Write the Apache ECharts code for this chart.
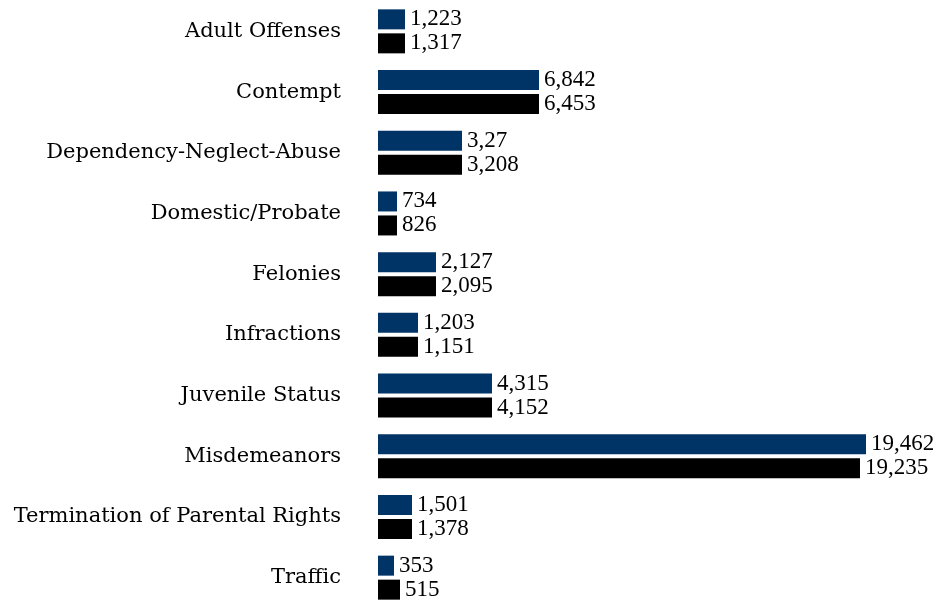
<!DOCTYPE html>
<html>
<head>
<meta charset="utf-8">
<script src="https://cdn.jsdelivr.net/npm/echarts@6/dist/echarts.min.js"></script>
<style>
html,body{margin:0;padding:0;background:#fff;}
#c{width:936px;height:600px;}
</style>
</head>
<body>
<div id="c"></div>
<script>
const categories = ['Adult Offenses','Contempt','Dependency-Neglect-Abuse','Domestic/Probate','Felonies','Infractions','Juvenile Status','Misdemeanors','Termination of Parental Rights','Traffic'];
// bar lengths
const seriesA = [1077, 6421, 3350, 758, 2313, 1595, 4546, 19462, 1356, 638];
const seriesB = [1077, 6421, 3350, 758, 2313, 1595, 4546, 19222, 1356, 877];
// value labels as printed in the picture
const labelsA = ['1,223','6,842','3,27','734','2,127','1,203','4,315','19,462','1,501','353'];
const labelsB = ['1,317','6,453','3,208','826','2,095','1,151','4,152','19,235','1,378','515'];

const chart = echarts.init(document.getElementById('c'));
const labelStyle = (arr) => ({
  show: true,
  position: 'right',
  distance: 5,
  color: '#000',
  fontFamily: 'Liberation Serif',
  fontSize: 23,
  formatter: p => arr[p.dataIndex]
});
chart.setOption({
  animation: false,
  grid: {left: 378, width: 501.5, top: 1, height: 607, containLabel: false, outerBoundsMode: 'none'},
  xAxis: {type: 'value', min: 0, max: 20000, show: false},
  yAxis: {
    type: 'category', inverse: true, data: categories,
    axisLine: {show: false}, axisTick: {show: false}, splitLine: {show: false},
    axisLabel: {margin: 37, color: '#000', fontFamily: 'DejaVu Serif', fontSize: 21}
  },
  series: [
    {type: 'bar', data: seriesA, barWidth: 20, barGap: '20%', itemStyle: {color: '#003366'}, label: labelStyle(labelsA)},
    {type: 'bar', data: seriesB, barWidth: 20, barGap: '20%', itemStyle: {color: '#000000'}, label: labelStyle(labelsB)}
  ]
});
</script>
</body>
</html>
